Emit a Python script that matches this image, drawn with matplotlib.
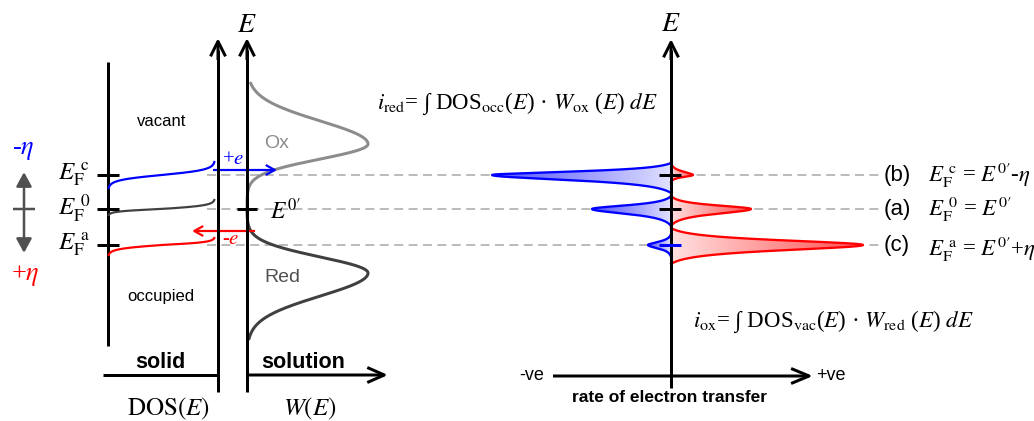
import numpy as np
import matplotlib.pyplot as plt
from matplotlib.patches import Polygon

plt.rcParams['mathtext.fontset'] = 'stix'

PX = 72 / 100  # points per pixel at dpi=100
SERIF = 'Liberation Serif'
SANS = 'Liberation Sans'

# electrode Fermi levels (screen y) : E_F^c, E_F^0, E_F^a
level_names = ['c', '0', 'a']
level_tags = ['(b)', '(a)', '(c)']
level_y = [175, 209, 245]
level_colors = ['#0000ff', '#404040', '#ff0000']
level_eqs = [r"$E_{\rm F}^{\ \rm c}$ = $E^{0\prime}$-$\eta$",
             r"$E_{\rm F}^{\ 0}$ = $E^{0\prime}$",
             r"$E_{\rm F}^{\ \rm a}$ = $E^{0\prime}$+$\eta$"]

# Fermi-edge tails of the solid DOS occupancy, below / above each level
fermi_tail_low = [13, 6, 10]
fermi_tail_high = [13, 9, 7]

# W(E) of the redox couple: centre, height, sigma above / below, span
w_names = ['Ox', 'Red']
w_center = [144, 273]
w_height = [121, 121]
w_sigma_up = [23, 16]
w_sigma_dn = [15, 23]
w_span = [(83, 209), (209, 339)]
w_colors = ['#8c8c8c', '#404040']

# electron transfer rate at each level: cathodic (left, blue), anodic (right, red)
cath_height = [179, 79, 23]
cath_up = [12, 13, 11]
cath_dn = [18, 17, 12]
anod_height = [22, 80, 192]
anod_up = [12, 13, 17]
anod_dn = [7, 17, 19]

# frame positions
X_SOLID, X_DOS, X_SOL, X_RATE = 108, 218, 247, 671

fig = plt.figure(figsize=(10.34, 4.21), dpi=100)
ax = fig.add_axes([0, 0, 1, 1])
ax.axis('off')


def line(xs, ys, color='k', lw=3, **kw):
    ax.plot(xs, ys, color=color, lw=lw * PX, solid_capstyle='butt', **kw)


def arrow(x0, y0, x1, y1, color='k', lw=3, hl=15, hw=7.5, style='->', z=5):
    ax.annotate('', xy=(x1, y1), xytext=(x0, y0),
                arrowprops=dict(arrowstyle=f'{style},head_length={hl * PX / 10},head_width={hw * PX / 10}',
                                mutation_scale=10, lw=lw * PX, color=color,
                                shrinkA=0, shrinkB=0, capstyle='butt'),
                zorder=z)


# dashed guide lines through the three levels
for y in level_y:
    ax.plot([207, 882], [y, y], color='#a6a6a6', lw=1.5 * PX,
            linestyle=(0, (6.0, 3.6)), zorder=1)

# ---- solid / solution panel ----
line([X_SOLID, X_SOLID], [62, 346])
line([103, X_DOS], [375, 375])
line([X_DOS, X_DOS], [392, 50], zorder=5)
arrow(X_DOS, 60, X_DOS, 38)
line([X_SOL, X_SOL], [392, 50], zorder=5)
arrow(X_SOL, 60, X_SOL, 38)
arrow(X_SOL, 375, 388, 375, hl=17, hw=7.5)

# occupancy edges in the solid
for y0, lo, hi, c in zip(level_y, fermi_tail_low, fermi_tail_high, level_colors):
    u = np.linspace(-lo, hi, 300)
    kt = np.where(u < 0, lo / 5.0, hi / 5.0)
    s = 1 / (1 + np.exp(-u / kt))
    ax.plot(X_SOLID + (215 - X_SOLID) * s, y0 - u, color=c, lw=2.2 * PX, zorder=3)
    line([97, 119], [y0, y0], zorder=4)

# W(E) distributions
for c0, h, su, sd, (ya, yb), col in zip(w_center, w_height, w_sigma_up, w_sigma_dn, w_span, w_colors):
    y = np.linspace(ya, yb, 400)
    sig = np.where(y < c0, su, sd)
    ax.plot(X_SOL + h * np.exp(-(y - c0) ** 2 / (2 * sig ** 2)), y, color=col,
            lw=3 * PX, zorder=3, solid_capstyle='round')
line([237, 257], [level_y[1], level_y[1]], zorder=6)

# electron transfer arrows
arrow(213, 170, 277, 170, color='#0000ff', lw=2.2, hl=9, hw=5, z=4)
arrow(255, 231, 192, 231, color='#ff0000', lw=2.2, hl=9, hw=5, z=4)
ax.text(233, 160, '+$e$', color='#0000ff', fontsize=15, family=SERIF, ha='center', va='center')
ax.text(231, 239, '-$e$', color='#ff0000', fontsize=15, family=SERIF, ha='center', va='center')

# overpotential marker
arrow(24, 209, 24, 172, color='#505050', lw=2.5, hl=12, hw=6.5, style='-|>', z=4)
arrow(24, 209, 24, 253, color='#505050', lw=2.5, hl=12, hw=6.5, style='-|>', z=4)
line([13, 35], [209, 209], color='#505050', lw=2.5)
ax.text(23, 151, '-$\\eta$', color='#0000ff', fontsize=19, family=SERIF, ha='center', va='center')
ax.text(25, 276, '+$\\eta$', color='#ff0000', fontsize=19, family=SERIF, ha='center', va='center')

for y0, n in zip(level_y, level_names):
    sup = n if n == '0' else r'\rm ' + n
    ax.text(74, y0 - 1, rf'$E_{{\rm F}}^{{\ {sup}}}$', fontsize=18, ha='center', va='center')
ax.text(285, 211, r'$E^{0\prime}$', fontsize=17, ha='center', va='center')

ax.text(162, 121, 'vacant', fontsize=12, family=SANS, ha='center', va='center')
ax.text(161, 297, 'occupied', fontsize=12, family=SANS, ha='center', va='center')
ax.text(277, 143, 'Ox', fontsize=14, family=SANS, color='#8c8c8c', ha='center', va='center')
ax.text(282, 277, 'Red', fontsize=14, family=SANS, color='#505050', ha='center', va='center')
ax.text(160, 362, 'solid', fontsize=15.5, family=SANS, weight='bold', ha='center', va='center')
ax.text(303, 363, 'solution', fontsize=15.5, family=SANS, weight='bold', ha='center', va='center')
ax.text(168, 409, r'$\mathrm{DOS}(E)$', fontsize=18, ha='center', va='center')
ax.text(310, 409, r'$W(E)$', fontsize=18, ha='center', va='center')
ax.text(247, 24, r'$E$', fontsize=20, ha='center', va='center')

# ---- rate panel ----
def lobe(yc, h, up, dn, sign, rgb, edge):
    y = np.linspace(yc - up, yc + dn, 300)
    w = np.where(y < yc, up / 4.0, dn / 4.0)
    base = 1 / np.cosh(4)
    p = (1 / np.cosh((y - yc) / w) - base) / (1 - base)
    x = X_RATE + sign * h * p
    verts = np.column_stack([np.r_[X_RATE, x, X_RATE], np.r_[y[0], y, y[-1]]])
    patch = Polygon(verts, closed=True, facecolor='none', edgecolor='none')
    ax.add_patch(patch)
    t = np.linspace(0, 1, 256)[:, None]
    near, far = np.array([0.88, 0.88, 0.88]), np.array([0.32, 0.32, 0.32])
    shade = near + (far - near) * t
    img = np.where(np.array(rgb) > 0.5, 1.0, shade)[None, :, :]
    im = ax.imshow(img, extent=[X_RATE, X_RATE + sign * h, y[-1], y[0]],
                   aspect='auto', interpolation='bilinear', zorder=2)
    im.set_clip_path(patch)
    ax.plot(x, y, color=edge, lw=2.3 * PX, zorder=3)


for i, y0 in enumerate(level_y):
    lobe(y0, cath_height[i], cath_up[i], cath_dn[i], -1, (0, 0, 1), '#0000ff')
    lobe(y0, anod_height[i], anod_up[i], anod_dn[i], +1, (1, 0, 0), '#ff0000')
    tick_col = '#0000ff' if i == 2 else 'k'
    line([659, 681], [y0, y0], color=tick_col, zorder=6)
    ax.text(897, y0 + 1, level_tags[i], fontsize=16, family=SANS, ha='center', va='center')
    ax.text(928, y0 + (4 if i == 2 else 0), level_eqs[i], fontsize=16.5, family=SERIF,
            ha='left', va='center')

line([X_RATE, X_RATE], [388, 50], zorder=5)
arrow(X_RATE, 60, X_RATE, 39)
arrow(553, 376, 813, 376, hl=18, hw=7.5)
ax.text(671, 23, r'$E$', fontsize=20, ha='center', va='center')
ax.text(532, 376, '-ve', fontsize=13, family=SANS, ha='center', va='center')
ax.text(831, 376, '+ve', fontsize=13, family=SANS, ha='center', va='center')
ax.text(670, 398, 'rate of electron transfer', fontsize=12.5, family=SANS, weight='bold',
        ha='center', va='center')

ax.text(377, 104, r'$i_{\rm red}$= ∫ DOS$_{\rm occ}$($E$) · $W_{\rm ox}$ ($E$) $dE$',
        fontsize=16.5, family=SERIF, ha='left', va='center')
ax.text(693, 322, r'$i_{\rm ox}$= ∫ DOS$_{\rm vac}$($E$) · $W_{\rm red}$ ($E$) $dE$',
        fontsize=16.5, family=SERIF, ha='left', va='center')

ax.set_xlim(0, 1034)
ax.set_ylim(421, 0)
ax.set_aspect('auto')
fig.savefig('out.png', dpi=100)
